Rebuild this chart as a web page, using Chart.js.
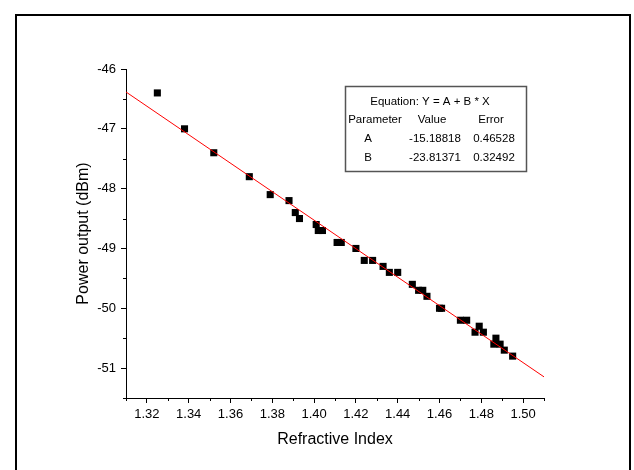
<!DOCTYPE html>
<html>
<head>
<meta charset="utf-8">
<title>Power output vs refractive index</title>
<script src="https://cdn.jsdelivr.net/npm/chart.js@4.4.1/dist/chart.umd.min.js"></script>
<style>
  html, body { margin: 0; padding: 0; background: #fff; }
  canvas { display: block; }
</style>
</head>
<body>
<canvas id="powerChart" width="634" height="470"></canvas>
<script>
const refractiveIndex = [1.325, 1.338, 1.352, 1.369, 1.379, 1.388, 1.391, 1.393, 1.401, 1.402,
                         1.404, 1.411, 1.413, 1.420, 1.424, 1.428, 1.433, 1.436, 1.440, 1.447,
                         1.450, 1.452, 1.454, 1.460, 1.461, 1.470, 1.473, 1.479, 1.477, 1.481,
                         1.487, 1.486, 1.489, 1.491, 1.495];
const powerOutput = [-46.4, -47.0, -47.4, -47.8, -48.1, -48.2, -48.4, -48.5, -48.6, -48.7,
                     -48.7, -48.9, -48.9, -49.0, -49.2, -49.2, -49.3, -49.4, -49.4, -49.6,
                     -49.7, -49.7, -49.8, -50.0, -50.0, -50.2, -50.2, -50.3, -50.4, -50.4,
                     -50.5, -50.6, -50.6, -50.7, -50.8];

// linear fit Y = A + B * X
const fitA = -15.18818, fitAErr = 0.46528;
const fitB = -23.81371, fitBErr = 0.32492;
const fitRange = [1.31, 1.51];

const xMajorTicks = [1.32, 1.34, 1.36, 1.38, 1.40, 1.42, 1.44, 1.46, 1.48, 1.50];
const xMinorTicks = [1.31, 1.33, 1.35, 1.37, 1.39, 1.41, 1.43, 1.45, 1.47, 1.49, 1.51];
const yMajorTicks = [-46, -47, -48, -49, -50, -51];
const yMinorTicks = [-46.5, -47.5, -48.5, -49.5, -50.5, -51.5];

const points = refractiveIndex.map((x, i) => ({ x: x, y: powerOutput[i] }));
const fitLine = fitRange.map(x => ({ x: x, y: fitA + fitB * x }));

const FONT = "'Liberation Sans', Arial, sans-serif";
Chart.defaults.font.family = FONT;
Chart.defaults.color = "#000";

const extrasPlugin = {
    id: "extras",
    afterDraw(chart) {
        const ctx = chart.ctx;
        const xs = chart.scales.x, ys = chart.scales.y;
        const area = chart.chartArea;
        ctx.save();

        // outer frame
        ctx.strokeStyle = "#000";
        ctx.lineWidth = 2;
        ctx.beginPath();
        ctx.moveTo(16, 480);
        ctx.lineTo(16, 15);
        ctx.lineTo(630, 15);
        ctx.lineTo(630, 480);
        ctx.stroke();

        // minor ticks
        ctx.lineWidth = 1;
        ctx.beginPath();
        xMinorTicks.forEach(v => {
            const px = Math.round(xs.getPixelForValue(v)) + 0.5;
            ctx.moveTo(px, area.bottom);
            ctx.lineTo(px, area.bottom + 3);
        });
        yMinorTicks.forEach(v => {
            const py = Math.round(ys.getPixelForValue(v)) + 0.5;
            ctx.moveTo(area.left, py);
            ctx.lineTo(area.left - 3, py);
        });
        ctx.stroke();

        // fit parameter table
        ctx.strokeStyle = "#555";
        ctx.lineWidth = 1.5;
        ctx.strokeRect(345.5, 86.5, 181, 85);
        ctx.fillStyle = "#000";
        ctx.font = "11.5px " + FONT;
        ctx.textAlign = "center";
        ctx.textBaseline = "middle";
        ctx.fillText("Equation: Y = A + B * X", 430, 102);
        ctx.fillText("Parameter", 375, 120);
        ctx.fillText("Value", 432, 120);
        ctx.fillText("Error", 491, 120);
        ctx.fillText("A", 368, 139);
        ctx.fillText(fitA.toFixed(5), 435, 139);
        ctx.fillText(fitAErr.toFixed(5), 494, 139);
        ctx.fillText("B", 368, 158);
        ctx.fillText(fitB.toFixed(5), 435, 158);
        ctx.fillText(fitBErr.toFixed(5), 494, 158);
        ctx.restore();
    }
};

new Chart(document.getElementById("powerChart"), {
    type: "scatter",
    data: {
        datasets: [{
            type: "line",
            label: "Linear fit",
            data: fitLine,
            borderColor: "#ff0000",
            borderWidth: 1,
            pointRadius: 0,
            fill: false
        }, {
            label: "Power output",
            data: points,
            pointStyle: "rect",
            pointRadius: 5,
            pointBorderWidth: 0,
            backgroundColor: "#000",
            borderColor: "#000"
        }]
    },
    options: {
        responsive: false,
        animation: false,
        devicePixelRatio: 1,
        layout: { padding: { top: 69, right: 90, left: 0, bottom: 0 } },
        plugins: {
            legend: { display: false },
            tooltip: { enabled: false }
        },
        scales: {
            x: {
                type: "linear",
                position: "bottom",
                min: 1.31,
                max: 1.51,
                afterBuildTicks: axis => { axis.ticks = xMajorTicks.map(v => ({ value: v })); },
                afterFit: axis => { axis.height = 72; },
                ticks: {
                    autoSkip: false,
                    maxRotation: 0,
                    padding: 4,
                    font: { size: 13 },
                    callback: v => v.toFixed(2)
                },
                grid: { drawOnChartArea: false, tickLength: 5, tickColor: "#000", tickWidth: 1 },
                border: { display: true, color: "#000", width: 1 },
                title: {
                    display: true,
                    text: "Refractive Index",
                    font: { size: 16 },
                    padding: { top: 0, bottom: 21 }
                }
            },
            y: {
                type: "linear",
                position: "left",
                min: -51.5,
                max: -46,
                afterBuildTicks: axis => { axis.ticks = yMajorTicks.map(v => ({ value: v })); },
                afterFit: axis => { axis.width = 126; },
                ticks: {
                    autoSkip: false,
                    padding: 5,
                    font: { size: 13 },
                    callback: v => String(v)
                },
                grid: { drawOnChartArea: false, tickLength: 5, tickColor: "#000", tickWidth: 1 },
                border: { display: true, color: "#000", width: 1 },
                title: {
                    display: true,
                    text: "Power output (dBm)",
                    font: { size: 16 },
                    padding: { top: 74, bottom: 0 }
                }
            }
        }
    },
    plugins: [extrasPlugin]
});
</script>
</body>
</html>
